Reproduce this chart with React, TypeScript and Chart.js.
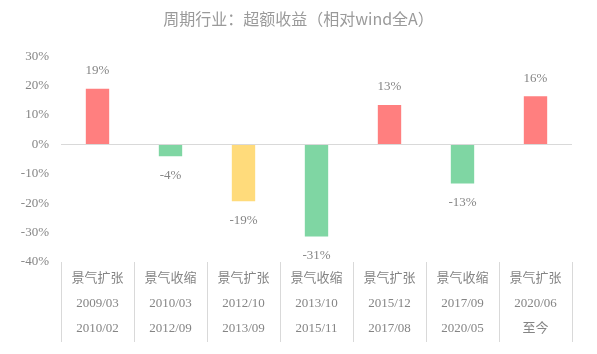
import React, { useEffect, useRef } from 'react';
import { Chart, registerables } from 'chart.js';

Chart.register(...registerables);

const chartTitle = '周期行业：超额收益（相对wind全A）';
const phases = ['景气扩张', '景气收缩', '景气扩张', '景气收缩', '景气扩张', '景气收缩', '景气扩张'];
const startDates = ['2009/03', '2010/03', '2012/10', '2013/10', '2015/12', '2017/09', '2020/06'];
const endDates = ['2010/02', '2012/09', '2013/09', '2015/11', '2017/08', '2020/05', '至今'];
const excessReturns = [18.9, -4.0, -19.3, -31.3, 13.4, -13.3, 16.4];
const yMin = -40;
const yMax = 30;
const yStep = 10;

const barColors = ['#FF7F7F', '#7FD6A3', '#FFDB7B', '#7FD6A3', '#FF7F7F', '#7FD6A3', '#FF7F7F'];

const TEXT_GRAY = '#858585';
const LINE_GRAY = '#d9d9d9';
const SERIF = "'Liberation Serif', 'Noto Sans CJK SC', serif";

const separatorPlugin = {
  id: 'separators',
  afterDraw(chart: any) {
    const xs = chart.scales.x;
    const n = xs.ticks.length;
    const w = (xs.right - xs.left) / n;
    const ctx = chart.ctx;
    const top = chart.chartArea.bottom;
    ctx.save();
    ctx.strokeStyle = LINE_GRAY;
    ctx.lineWidth = 1;
    for (let k = 0; k <= n; k++) {
      const px = Math.round(xs.left + k * w) + 0.5;
      ctx.beginPath();
      ctx.moveTo(px, top);
      ctx.lineTo(px, top + 80);
      ctx.stroke();
    }
    ctx.restore();
  },
};

const valueLabelPlugin = {
  id: 'valueLabels',
  afterDatasetsDraw(chart: any) {
    const ctx = chart.ctx;
    const meta = chart.getDatasetMeta(0);
    const data = chart.data.datasets[0].data as number[];
    ctx.save();
    ctx.fillStyle = TEXT_GRAY;
    ctx.font = `13px ${SERIF}`;
    ctx.textAlign = 'center';
    ctx.textBaseline = 'middle';
    meta.data.forEach((el: any, i: number) => {
      const v = data[i];
      const label = `${Math.round(v)}%`;
      const y = v >= 0 ? el.y - 18 : el.y + 19;
      ctx.fillText(label, el.x, y);
    });
    ctx.restore();
  },
};

export default function App() {
  const ref = useRef<HTMLCanvasElement | null>(null);

  useEffect(() => {
    document.body.style.margin = '0';
    if (!ref.current) return;
    const chart = new Chart(ref.current, {
      type: 'bar',
      data: {
        labels: phases.map((p, i) => [p, startDates[i], endDates[i]]),
        datasets: [
          {
            data: excessReturns,
            backgroundColor: barColors,
            barPercentage: 0.32,
            categoryPercentage: 1,
          },
        ],
      },
      options: {
        animation: false,
        responsive: false,
        devicePixelRatio: 1,
        layout: { padding: 0 },
        plugins: {
          legend: { display: false },
          tooltip: { enabled: false },
          title: {
            display: true,
            text: chartTitle,
            color: '#9a9a9a',
            font: { size: 16, family: "'Noto Sans CJK SC', sans-serif", weight: 'normal' },
            padding: { top: 9, bottom: 28 },
          },
        },
        scales: {
          x: {
            grid: { display: false, drawTicks: false },
            border: { display: false },
            ticks: {
              color: TEXT_GRAY,
              font: { size: 13, family: SERIF, lineHeight: 25 / 13 },
              padding: 4,
              autoSkip: false,
              maxRotation: 0,
            },
            afterFit(scale: any) {
              scale.height = 92;
            },
          },
          y: {
            min: yMin,
            max: yMax,
            grid: {
              drawTicks: false,
              color: (c: any) => (c.tick && c.tick.value === 0 ? LINE_GRAY : 'rgba(0,0,0,0)'),
            },
            border: { display: false },
            ticks: {
              stepSize: yStep,
              color: TEXT_GRAY,
              font: { size: 13, family: SERIF },
              padding: 12,
              callback: (v: any) => `${v}%`,
            },
            afterFit(scale: any) {
              scale.width = 61;
            },
          },
          yRight: {
            position: 'right',
            display: true,
            grid: { display: false, drawTicks: false },
            border: { display: false },
            ticks: { display: false },
            afterFit(scale: any) {
              scale.width = 25;
            },
          },
        },
      },
      plugins: [separatorPlugin, valueLabelPlugin],
    });
    return () => chart.destroy();
  }, []);

  return (
    <div style={{ width: 597, height: 354 }}>
      <canvas ref={ref} width={597} height={354} />
    </div>
  );
}
